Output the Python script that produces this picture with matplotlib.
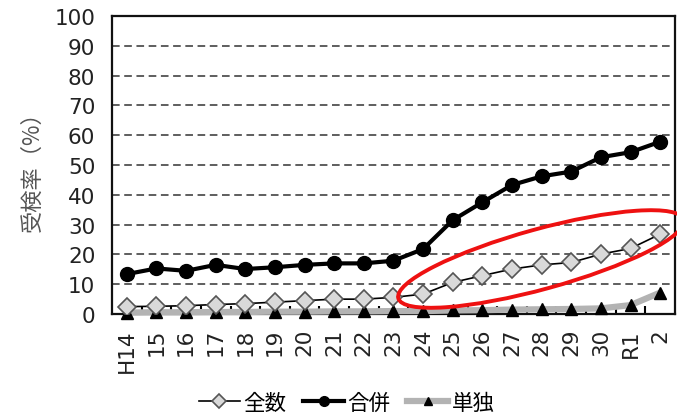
import matplotlib
matplotlib.use('Agg')
import matplotlib.pyplot as plt
from matplotlib.patches import Ellipse

plt.rcParams['font.family'] = ['DejaVu Sans', 'Noto Sans CJK JP']

# data
years = ['H14', '15', '16', '17', '18', '19', '20', '21', '22', '23',
         '24', '25', '26', '27', '28', '29', '30', 'R1', '2']
zensu = [2.5, 2.6, 2.8, 3.2, 3.5, 4.0, 4.5, 5.0, 5.0, 5.6,
         6.7, 10.6, 12.9, 15.1, 16.5, 17.3, 20.1, 22.0, 26.8]
gappei = [13.4, 15.3, 14.5, 16.5, 15.1, 15.7, 16.5, 17.0, 17.0, 17.9,
          21.8, 31.5, 37.5, 43.3, 46.2, 47.8, 52.6, 54.3, 57.8]
tandoku = [0.5, 0.6, 0.6, 0.7, 0.7, 0.8, 0.8, 0.9, 0.9, 1.0,
           1.0, 1.2, 1.3, 1.5, 1.6, 1.7, 1.9, 3.0, 7.2]

x = list(range(len(years)))

fig = plt.figure(figsize=(6.77, 4.14), dpi=100)
ax = fig.add_axes([0.1654, 0.239, 0.8316, 0.72])

l3, = ax.plot(x, tandoku, color='#b3b3b3', lw=4.5, marker='^', ms=9,
              mfc='black', mec='black', zorder=3, clip_on=False)
l1, = ax.plot(x, zensu, color='black', lw=1.2, marker='D', ms=9.5,
              mfc='#d9d9d9', mec='#555555', mew=1.2, zorder=4)
l2, = ax.plot(x, gappei, color='black', lw=3, marker='o', ms=10,
              mfc='black', mec='black', zorder=5)

ax.set_xlim(-0.5, len(years) - 0.5)
ax.set_ylim(0, 100)
ax.set_yticks(range(0, 101, 10))
ax.set_xticks(x)
ax.set_xticklabels(years, rotation=90, fontsize=15.5, color='#222222')
ax.tick_params(axis='y', length=0, pad=12, labelsize=15.5, labelcolor='#222222')
ax.tick_params(axis='x', which='major', length=0, pad=10)
ax.set_xticks([i + 0.5 for i in x[:-1]], minor=True)
ax.tick_params(axis='x', which='minor', direction='in', length=6, width=1.5)

ax.yaxis.grid(True, color='#333333', linestyle=(0, (5, 3)), lw=1.1)
for s in ax.spines.values():
    s.set_linewidth(1.6)
    s.set_color('#111111')

ax.set_ylabel('受検率（%）', fontsize=16, color='#555555', labelpad=8,
              family=['Noto Sans CJK JP'])

# red ellipse highlight
ell = Ellipse((5.41, 1.54), 2.96, 0.6, angle=15.4, transform=fig.dpi_scale_trans,
              fill=False, edgecolor='#ee1111', lw=2.8, clip_on=False, zorder=10)
fig.add_artist(ell)

fig.legend([l1, l2, l3], ['全数', '合併', '単独'], loc='center',
           bbox_to_anchor=(0.512, 0.025), ncol=3, frameon=False,
           handlelength=1.9, handletextpad=0.15, columnspacing=0.8, markerscale=0.7,
           prop={'family': ['Noto Sans CJK JP'], 'size': 15.5})

fig.savefig('out.png', dpi=100)
